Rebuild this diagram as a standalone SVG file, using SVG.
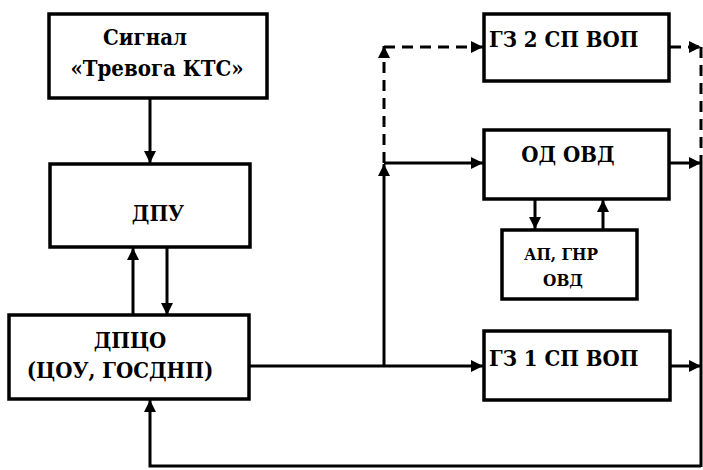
<svg xmlns="http://www.w3.org/2000/svg" width="703" height="470" viewBox="0 0 703 470">
<defs>
<marker id="ah" viewBox="0 0 10 10" refX="10" refY="5" markerWidth="4" markerHeight="4" orient="auto" markerUnits="strokeWidth">
<path d="M0,0 L10,5 L0,10 z" fill="#000"/>
</marker>
</defs>
<rect width="703" height="470" fill="#fff"/>
<g id="connectors" fill="none" stroke="#000" stroke-width="3">
<line x1="150" y1="98" x2="150" y2="163" marker-end="url(#ah)"/>
<line x1="133" y1="315" x2="133" y2="248" marker-end="url(#ah)"/>
<line x1="167" y1="248" x2="167" y2="315" marker-end="url(#ah)"/>
<line x1="249" y1="366" x2="483" y2="366" marker-end="url(#ah)"/>
<line x1="384" y1="366" x2="384" y2="164" marker-end="url(#ah)"/>
<line x1="384" y1="163" x2="483" y2="163" marker-end="url(#ah)"/>
<line x1="384" y1="163" x2="384" y2="46" stroke-dasharray="11,7" marker-end="url(#ah)"/>
<line x1="384" y1="47" x2="483" y2="47" stroke-dasharray="11,7" marker-end="url(#ah)"/>
<line x1="670" y1="47" x2="701" y2="47" stroke-dasharray="11,7" marker-end="url(#ah)"/>
<line x1="701" y1="47" x2="701" y2="163" stroke-dasharray="11,7"/>
<line x1="670" y1="163" x2="701" y2="163" marker-end="url(#ah)"/>
<line x1="670" y1="366" x2="701" y2="366" marker-end="url(#ah)"/>
<line x1="701" y1="163" x2="701" y2="467"/>
<polyline points="701,466 150,466 150,400" marker-end="url(#ah)"/>
<line x1="535" y1="199" x2="535" y2="229" marker-end="url(#ah)"/>
<line x1="603" y1="230" x2="603" y2="200" marker-end="url(#ah)"/>
</g>
<g id="signal">
<rect x="49" y="14" width="218" height="84" fill="#fff" stroke="#000" stroke-width="3.5"/>
<text x="145" y="45" text-anchor="middle" font-family="DejaVu Serif Condensed, DejaVu Serif, serif" font-weight="bold" font-size="22">Сигнал</text>
<text x="157" y="76" text-anchor="middle" font-family="DejaVu Serif Condensed, DejaVu Serif, serif" font-weight="bold" font-size="22">«Тревога КТС»</text>
</g>
<g id="dpu">
<rect x="50" y="164" width="200" height="83" fill="#fff" stroke="#000" stroke-width="3.5"/>
<text x="158" y="221" text-anchor="middle" font-family="DejaVu Serif Condensed, DejaVu Serif, serif" font-weight="bold" font-size="22">ДПУ</text>
</g>
<g id="dpco">
<rect x="9" y="315" width="240" height="84" fill="#fff" stroke="#000" stroke-width="3.5"/>
<text x="130" y="348" text-anchor="middle" font-family="DejaVu Serif Condensed, DejaVu Serif, serif" font-weight="bold" font-size="22">ДПЦО</text>
<text x="120" y="378" text-anchor="middle" font-family="DejaVu Serif Condensed, DejaVu Serif, serif" font-weight="bold" font-size="22">(ЦОУ, ГОСДНП)</text>
</g>
<g id="gz2">
<rect x="484" y="14" width="185" height="67" fill="#fff" stroke="#000" stroke-width="3.5"/>
<text x="489" y="47" font-family="DejaVu Serif Condensed, DejaVu Serif, serif" font-weight="bold" font-size="22">ГЗ 2 СП ВОП</text>
</g>
<g id="odovd">
<rect x="484" y="130" width="185" height="69" fill="#fff" stroke="#000" stroke-width="3.5"/>
<text x="568" y="162" text-anchor="middle" font-family="DejaVu Serif Condensed, DejaVu Serif, serif" font-weight="bold" font-size="22">ОД ОВД</text>
</g>
<g id="apgnr">
<rect x="502" y="230" width="135" height="69" fill="#fff" stroke="#000" stroke-width="3.5"/>
<text x="561" y="260" text-anchor="middle" font-family="DejaVu Serif Condensed, DejaVu Serif, serif" font-weight="bold" font-size="17">АП, ГНР</text>
<text x="563" y="286" text-anchor="middle" font-family="DejaVu Serif Condensed, DejaVu Serif, serif" font-weight="bold" font-size="17">ОВД</text>
</g>
<g id="gz1">
<rect x="484" y="331" width="186" height="69" fill="#fff" stroke="#000" stroke-width="3.5"/>
<text x="489" y="366" font-family="DejaVu Serif Condensed, DejaVu Serif, serif" font-weight="bold" font-size="22">ГЗ 1 СП ВОП</text>
</g>
</svg>
